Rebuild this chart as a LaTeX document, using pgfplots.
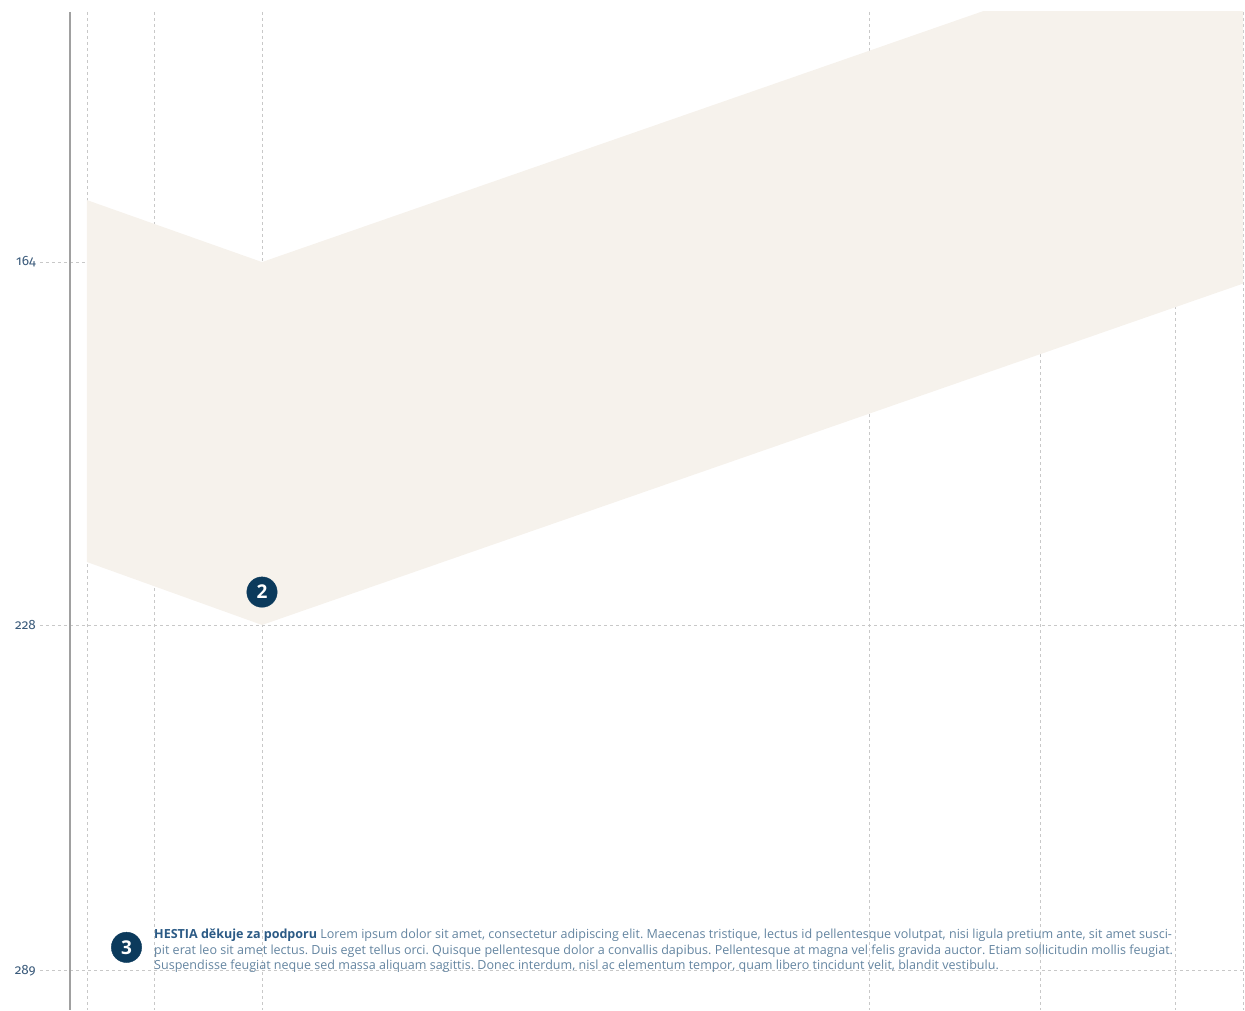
\documentclass[border=0pt]{standalone}
\usepackage{fontspec}
\setmainfont{Open Sans}
\newfontfamily\tickfont[Numbers=OldStyle]{Fira Sans}
\usepackage{pgfplots}
\pgfplotsset{compat=1.18}
\definecolor{band}{HTML}{F6F2EC}
\definecolor{navy}{HTML}{0B3A5C}
\definecolor{gridc}{HTML}{C8C8C8}
\definecolor{tickc}{HTML}{3B5B7B}
\definecolor{txt}{HTML}{6384A0}
\definecolor{txtb}{HTML}{2B5A85}
\definecolor{axc}{HTML}{A0A0A0}
\frenchspacing
\begin{document}
\begin{tikzpicture}
\begin{axis}[
  scale only axis,
  width=1205pt, height=998pt,
  xmin=40, xmax=1245,
  ymin=119.9, ymax=295.9,
  y dir=reverse,
  axis line style={draw=none},
  major tick length=0pt,
  xtick={87,154,262,869,1040,1175,1243},
  xticklabels={},
  ytick={164,228,289},
  yticklabel style={anchor=east, inner sep=0pt, xshift=-4pt, font=\tickfont\fontsize{13.5}{15}\selectfont, text=tickc},
  /pgf/number format/assume math mode=true,
  xmajorgrids, ymajorgrids,
  major grid style={gridc, dash pattern=on 3pt off 3pt, line width=0.8pt},
  clip=true,
]
\addplot[fill=band, draw=none] coordinates {(87,153.07) (262,164) (1243,103.8) (1243,167.8) (262,228) (87,216.9)} -- cycle;
\addplot[axc, line width=1.3pt] coordinates {(70,119.9) (70,295.9)};
\addplot[only marks, mark=*, mark size=15.2pt, navy,
  point meta=explicit symbolic, nodes near coords,
  every node near coord/.style={anchor=center, text=white, font=\bfseries\fontsize{19}{19}\selectfont}]
  coordinates {(262,222.2) [2] (126.5,284.85) [3]};
\node[anchor=base west, inner sep=0pt, text=txt, font=\fontsize{12.54}{15.5}\selectfont] at (axis cs:154,283.36) {\textcolor{txtb}{\bfseries HESTIA děkuje za podporu} Lorem ipsum dolor sit amet, consectetur adipiscing elit. Maecenas tristique, lectus id pellentesque volutpat, nisi ligula pretium ante, sit amet susci-};
\node[anchor=base west, inner sep=0pt, text=txt, font=\fontsize{12.54}{15.5}\selectfont] at (axis cs:154,286.1) {pit erat leo sit amet lectus. Duis eget tellus orci. Quisque pellentesque dolor a convallis dapibus. Pellentesque at magna vel felis gravida auctor. Etiam sollicitudin mollis feugiat.};
\node[anchor=base west, inner sep=0pt, text=txt, font=\fontsize{12.54}{15.5}\selectfont] at (axis cs:154,288.83) {Suspendisse feugiat neque sed massa aliquam sagittis. Donec interdum, nisl ac elementum tempor, quam libero tincidunt velit, blandit vestibulu.};
\end{axis}
\pgfresetboundingbox
\useasboundingbox ([xshift=-40pt,yshift=-1pt]current axis.south west) rectangle ([yshift=12pt]current axis.north east);
\end{tikzpicture}
\end{document}
